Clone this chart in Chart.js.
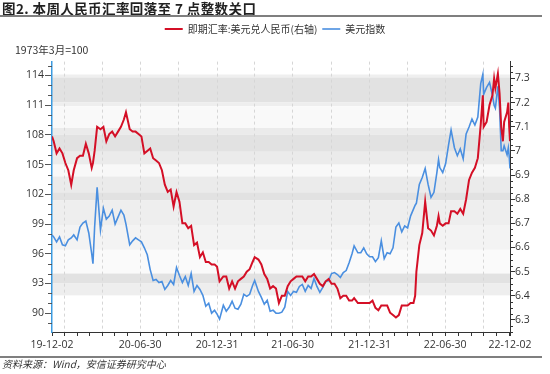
<!DOCTYPE html>
<html>
<head>
<meta charset="utf-8">
<script src="https://cdn.jsdelivr.net/npm/chart.js@4.4.0/dist/chart.umd.min.js"></script>
<style>
  body { margin: 0; background: #fff; width: 550px; height: 374px; overflow: hidden; position: relative; font-family: "Noto Sans CJK SC", sans-serif; }
  #chart { position: absolute; left: 0; top: 0; }
  .title { position: absolute; left: 2px; top: 0; font-size: 13.5px; letter-spacing: 0.4px; font-weight: bold; color: #222; line-height: 16px; }
  .rule { position: absolute; left: 0; width: 542px; height: 2px; background: #7f7f7f; }
  .src { position: absolute; left: 2px; top: 357px; font-size: 10px; font-style: italic; color: #333; line-height: 14px; }
</style>
</head>
<body>
<canvas id="chart" width="550" height="374"></canvas>
<div class="title">图2. 本周人民币汇率回落至 7 点整数关口</div>
<div class="rule" style="top:15px"></div>
<div class="rule" style="top:356px"></div>
<div class="src">资料来源：Wind，安信证券研究中心</div>
<script>
// weekly readings
const dates = [
  '2019-12-02','2019-12-06','2019-12-13','2019-12-20','2019-12-27','2020-01-03','2020-01-10','2020-01-17','2020-01-23','2020-01-31',
  '2020-02-07','2020-02-14','2020-02-21','2020-02-28','2020-03-06','2020-03-09','2020-03-13','2020-03-19','2020-03-27','2020-04-03',
  '2020-04-10','2020-04-17','2020-04-24','2020-05-01','2020-05-08','2020-05-15','2020-05-22','2020-05-27','2020-06-05','2020-06-12',
  '2020-06-19','2020-06-26','2020-07-03','2020-07-10','2020-07-17','2020-07-24','2020-07-31','2020-08-07','2020-08-14','2020-08-21',
  '2020-08-28','2020-09-04','2020-09-11','2020-09-18','2020-09-25','2020-10-02','2020-10-09','2020-10-16','2020-10-23','2020-10-30',
  '2020-11-06','2020-11-13','2020-11-20','2020-11-27','2020-12-04','2020-12-11','2020-12-18','2020-12-25','2020-12-31','2021-01-06',
  '2021-01-15','2021-01-22','2021-01-29','2021-02-05','2021-02-12','2021-02-19','2021-02-26','2021-03-05','2021-03-12','2021-03-19',
  '2021-03-26','2021-03-31','2021-04-09','2021-04-16','2021-04-23','2021-04-30','2021-05-07','2021-05-14','2021-05-21','2021-05-28',
  '2021-06-04','2021-06-11','2021-06-18','2021-06-25','2021-07-02','2021-07-09','2021-07-16','2021-07-23','2021-07-30','2021-08-06',
  '2021-08-13','2021-08-20','2021-08-27','2021-09-03','2021-09-10','2021-09-17','2021-09-24','2021-10-01','2021-10-08','2021-10-15',
  '2021-10-22','2021-10-29','2021-11-05','2021-11-12','2021-11-19','2021-11-24','2021-12-03','2021-12-10','2021-12-17','2021-12-24',
  '2021-12-31','2022-01-07','2022-01-14','2022-01-21','2022-01-28','2022-02-04','2022-02-11','2022-02-18','2022-02-25','2022-03-04',
  '2022-03-11','2022-03-18','2022-03-25','2022-04-01','2022-04-08','2022-04-15','2022-04-19','2022-04-22','2022-04-29','2022-05-06',
  '2022-05-13','2022-05-20','2022-05-27','2022-06-03','2022-06-10','2022-06-14','2022-06-17','2022-06-24','2022-07-01','2022-07-08',
  '2022-07-14','2022-07-22','2022-07-29','2022-08-05','2022-08-12','2022-08-19','2022-08-26','2022-09-02','2022-09-09','2022-09-16',
  '2022-09-23','2022-09-28','2022-09-30','2022-10-07','2022-10-14','2022-10-21','2022-10-25','2022-10-28','2022-11-03','2022-11-07',
  '2022-11-11','2022-11-15','2022-11-18','2022-11-25','2022-11-28','2022-11-30','2022-12-02'
];
const usdCny = [
  7.06, 7.04, 6.99, 7.01, 6.99, 6.95, 6.92, 6.86, 6.92, 6.97,
  6.98, 6.98, 7.03, 6.99, 6.93, 6.95, 7.00, 7.10, 7.09, 7.10,
  7.04, 7.07, 7.08, 7.06, 7.08, 7.10, 7.13, 7.16, 7.09, 7.08,
  7.08, 7.07, 7.06, 6.99, 7.00, 7.01, 6.97, 6.96, 6.95, 6.92,
  6.86, 6.83, 6.84, 6.77, 6.83, 6.79, 6.70, 6.70, 6.68, 6.69,
  6.61, 6.62, 6.56, 6.58, 6.54, 6.54, 6.53, 6.53, 6.52, 6.46,
  6.48, 6.48, 6.43, 6.46, 6.43, 6.46, 6.47, 6.48, 6.50, 6.51,
  6.54, 6.56, 6.55, 6.53, 6.49, 6.47, 6.43, 6.44, 6.43, 6.37,
  6.40, 6.40, 6.44, 6.46, 6.47, 6.48, 6.48, 6.48, 6.46, 6.48,
  6.48, 6.49, 6.47, 6.45, 6.44, 6.46, 6.47, 6.45, 6.45, 6.43,
  6.39, 6.40, 6.40, 6.38, 6.38, 6.39, 6.37, 6.37, 6.37, 6.37,
  6.37, 6.38, 6.35, 6.34, 6.36, 6.36, 6.36, 6.33, 6.32, 6.31,
  6.32, 6.36, 6.36, 6.36, 6.37, 6.37, 6.40, 6.50, 6.61, 6.66,
  6.79, 6.68, 6.67, 6.65, 6.69, 6.73, 6.70, 6.69, 6.70, 6.70,
  6.75, 6.75, 6.74, 6.76, 6.74, 6.80, 6.88, 6.91, 6.93, 6.97,
  7.11, 7.23, 7.10, 7.12, 7.19, 7.23, 7.30, 7.26, 7.32, 7.24,
  7.10, 7.04, 7.12, 7.16, 7.20, 7.10, 7.04
];
const dxy = [
  97.9, 97.7, 97.2, 97.7, 96.9, 96.8, 97.4, 97.6, 97.9, 97.4,
  98.7, 99.1, 99.3, 98.1, 96.0, 95.0, 98.7, 102.7, 98.4, 100.6,
  99.5, 99.8, 100.4, 99.0, 99.7, 100.4, 99.9, 99.0, 96.9, 97.3,
  97.6, 97.4, 97.2, 96.6, 95.9, 94.4, 93.3, 93.4, 93.1, 93.2,
  92.4, 92.8, 93.3, 92.9, 94.6, 93.8, 93.1, 93.7, 92.8, 94.0,
  92.2, 92.8, 92.4, 91.8, 90.7, 91.0, 90.0, 90.3, 89.9, 89.4,
  90.8, 90.2, 90.6, 91.2, 90.5, 90.4, 90.9, 91.9, 91.7, 91.9,
  92.8, 93.3, 92.2, 91.6, 90.9, 91.3, 90.2, 90.3, 90.0, 90.0,
  90.1, 90.6, 92.2, 91.8, 92.2, 92.1, 92.7, 92.9, 92.2, 92.8,
  92.5, 93.5, 92.7, 92.1, 92.6, 93.2, 93.3, 94.0, 94.1, 93.9,
  93.6, 94.1, 94.3, 95.1, 96.0, 96.8, 96.1, 96.1, 96.6, 96.0,
  95.7, 95.7, 95.2, 95.6, 97.3, 95.5, 96.1, 96.0, 96.6, 98.7,
  99.1, 98.2, 98.8, 98.6, 99.8, 100.5, 100.9, 101.1, 103.0, 103.7,
  104.6, 103.0, 101.7, 102.2, 104.2, 105.5, 104.7, 104.2, 105.1, 107.0,
  108.5, 106.7, 105.9, 106.6, 105.6, 108.1, 108.8, 109.6, 109.0, 109.8,
  113.2, 114.1, 112.1, 112.8, 113.3, 112.0, 111.0, 110.7, 112.9, 110.7,
  106.4, 106.4, 106.9, 106.0, 106.7, 105.9, 104.6
];

const leftTicks = [90, 93, 96, 99, 102, 105, 108, 111, 114];
const rightTicks = [6.3, 6.4, 6.5, 6.6, 6.7, 6.8, 6.9, 7, 7.1, 7.2, 7.3];
const xLabelDates = ['2019-12-02', '2020-06-30', '2020-12-31', '2021-06-30', '2021-12-31', '2022-06-30', '2022-12-02'];
const xLabels = ['19-12-02', '20-06-30', '20-12-31', '21-06-30', '21-12-31', '22-06-30', '22-12-02'];

const RED = '#d40f26';
const BLUE = '#4a8fe0';
const NUM_FONT = { family: 'Open Sans', size: 10.5 };
const CJK_FONT = { family: 'Noto Sans CJK SC', size: 10 };

const toUTC = s => { const [y, m, d] = s.split('-').map(Number); return Date.UTC(y, m - 1, d); };
const t0 = toUTC(dates[0]);
const dayOf = s => (toUTC(s) - t0) / 864e5;
const lastDay = dayOf(dates[dates.length - 1]);

// month-end tick marks, quarter-end dashed grid
const xTicks = [0];
const quarterDays = new Set();
for (let y = 2019, m = 12; ; m++) {
  if (m > 12) { m = 1; y++; }
  const d = (Date.UTC(y, m, 0) - t0) / 864e5;   // last day of month m
  if (d >= lastDay) break;
  if (d > 0) { xTicks.push(d); if (m % 3 === 0) quarterDays.add(d); }
}
xTicks.push(lastDay);
const labelAt = {};
xLabelDates.forEach((s, i) => { labelAt[dayOf(s)] = xLabels[i]; });

const bands = [
  [114.1, 113.8, '#efefef'], [113.8, 111.3, '#e2e2e2'], [111.3, 110.9, '#eeeeee'], [110.9, 108.7, '#f9f9f9'],
  [108.7, 108.0, '#ebebeb'], [108.0, 106.3, '#e2e2e2'], [106.3, 105.0, '#ebebeb'], [105.0, 103.8, '#f8f8f8'],
  [103.8, 102.2, '#ebebeb'], [102.2, 101.4, '#e2e2e2'], [101.4, 98.9, '#eeeeee'], [98.9, 96.4, '#f3f3f3'],
  [96.4, 94.0, '#fafafa'], [94.0, 93.0, '#e2e2e2'], [93.0, 91.8, '#eeeeee']
];

const bandPlugin = {
  id: 'bands',
  beforeDraw(chart) {
    const { ctx, chartArea: a, scales: { y } } = chart;
    ctx.save();
    ctx.beginPath();
    ctx.rect(a.left, a.top, a.right - a.left, a.bottom - a.top);
    ctx.clip();
    bands.forEach(([hi, lo, c]) => {
      const y1 = y.getPixelForValue(hi), y2 = y.getPixelForValue(lo);
      ctx.fillStyle = c;
      ctx.fillRect(a.left, y1, a.right - a.left, y2 - y1);
    });
    ctx.restore();
  }
};

const minorTicks = {
  id: 'minorTicks',
  afterDraw(chart) {
    const { ctx, scales: { y, y2 } } = chart;
    ctx.save();
    ctx.lineWidth = 1;
    ctx.strokeStyle = '#555';
    for (let v = Math.ceil(y.min); v <= y.max; v++) {
      if (leftTicks.includes(v)) continue;
      const py = Math.round(y.getPixelForValue(v)) + 0.5;
      ctx.beginPath(); ctx.moveTo(y.right - 4, py); ctx.lineTo(y.right, py); ctx.stroke();
    }
    ctx.strokeStyle = '#333';
    for (let k = Math.ceil(y2.min * 40); k <= y2.max * 40; k++) {
      if (k % 4 === 0) continue;
      const py = Math.round(y2.getPixelForValue(k / 40)) + 0.5;
      ctx.beginPath(); ctx.moveTo(y2.left, py); ctx.lineTo(y2.left + 3, py); ctx.stroke();
    }
    ctx.restore();
  }
};

const toPoints = vals => dates.map((d, i) => ({ x: dayOf(d), y: vals[i] }));

new Chart(document.getElementById('chart'), {
  type: 'line',
  data: {
    datasets: [
      {
        label: '即期汇率:美元兑人民币(右轴)',
        data: toPoints(usdCny),
        yAxisID: 'y2',
        borderColor: RED,
        backgroundColor: RED,
        borderWidth: 2,
        pointRadius: 0,
        tension: 0
      },
      {
        label: '美元指数',
        data: toPoints(dxy),
        yAxisID: 'y',
        borderColor: BLUE,
        backgroundColor: BLUE,
        borderWidth: 1.6,
        pointRadius: 0,
        tension: 0
      }
    ]
  },
  options: {
    responsive: false,
    animation: false,
    layout: { padding: { top: 19, left: 15, right: 15, bottom: 0 } },
    plugins: {
      legend: {
        labels: { usePointStyle: true, pointStyle: 'line', pointStyleWidth: 18, padding: 5, color: '#333', font: CJK_FONT }
      },
      title: {
        display: true,
        text: '1973年3月=100',
        align: 'start',
        weight: 500,
        color: '#333',
        font: { family: 'Noto Sans CJK SC', size: 10.5, weight: 'normal' },
        padding: { top: 0, bottom: 5 }
      },
      tooltip: { enabled: false }
    },
    scales: {
      x: {
        type: 'linear',
        min: 0,
        max: lastDay,
        afterBuildTicks: s => { s.ticks = xTicks.map(v => ({ value: v })); },
        afterFit: s => { s.height = 42; },
        grid: {
          color: c => (c.tick && quarterDays.has(c.tick.value)) ? '#d6d6d6' : 'rgba(0,0,0,0)',
          tickColor: '#333',
          tickLength: 4
        },
        border: { color: '#333', dash: [3, 3] },
        ticks: { autoSkip: false, maxRotation: 0, padding: 3, color: '#333', font: NUM_FONT, callback: v => labelAt[v] || '' }
      },
      y: {
        position: 'left',
        min: 88.1,
        max: 115.4,
        afterBuildTicks: s => { s.ticks = leftTicks.map(v => ({ value: v })); },
        afterFit: s => { s.width = 37; },
        grid: { drawOnChartArea: false, tickLength: 7, tickColor: '#555' },
        border: { color: '#3d9be0', width: 1.5 },
        ticks: { padding: 1, color: '#333', font: NUM_FONT }
      },
      y2: {
        position: 'right',
        min: 6.25,
        max: 7.37,
        afterBuildTicks: s => { s.ticks = rightTicks.map(v => ({ value: v })); },
        afterFit: s => { s.width = 25; },
        grid: { drawOnChartArea: false, tickLength: 5, tickColor: '#333' },
        border: { color: '#333' },
        ticks: { padding: 0, color: '#333', font: NUM_FONT, callback: v => String(v) }
      }
    }
  },
  plugins: [bandPlugin, minorTicks]
});
</script>
</body>
</html>
